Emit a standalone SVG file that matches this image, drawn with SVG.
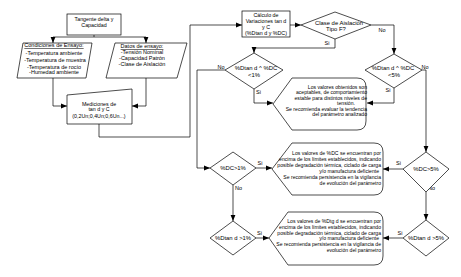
<svg xmlns="http://www.w3.org/2000/svg" width="461" height="277" viewBox="0 0 461 277">
<defs>
<style>
.s{fill:#fff;stroke:#000;stroke-width:0.7}
.c{fill:none;stroke:#000;stroke-width:0.7}
text{font-family:"Liberation Sans",Arial,sans-serif;fill:#000}
.t{font-size:5.3px;text-anchor:middle}
.p{font-size:5.5px;text-anchor:middle}
.d{font-size:5.9px;text-anchor:middle}
.h{font-size:5.1px;text-anchor:end}
.hm{font-size:5.1px;text-anchor:middle}
.l{font-size:5.5px;text-anchor:middle}
</style>
<marker id="a" viewBox="0 0 10 10" refX="10" refY="5" markerWidth="6" markerHeight="6" markerUnits="userSpaceOnUse" orient="auto">
<path d="M0,1 L10,5 L0,9 Z" fill="#000"/>
</marker>
</defs>
<rect width="461" height="277" fill="#fff"/>

<g id="connectors">
<path class="c" d="M94,35 V37 M53,37 H146"/>
<path class="c" d="M53,37 V43" marker-end="url(#a)"/>
<path class="c" d="M146,37 V43" marker-end="url(#a)"/>
<path class="c" d="M53,78 V106 H67" marker-end="url(#a)"/>
<path class="c" d="M146,78 V106 H132" marker-end="url(#a)"/>
<path class="c" d="M99,124 V137 H190 V25 H242" marker-end="url(#a)"/>
<path class="c" d="M290,25 H301" marker-end="url(#a)"/>
<path class="c" d="M371,25 H394 V54" marker-end="url(#a)"/>
<path class="c" d="M335,39 V48 H254 V53" marker-end="url(#a)"/>
<path class="c" d="M225,70 H197 V168 H210" marker-end="url(#a)"/>
<path class="c" d="M254,89 V103 H273" marker-end="url(#a)"/>
<path class="c" d="M422,70 H426 V152" marker-end="url(#a)"/>
<path class="c" d="M394,88 V103 H367" marker-end="url(#a)"/>
<path class="c" d="M403,169 H383" marker-end="url(#a)"/>
<path class="c" d="M426,192 V220" marker-end="url(#a)"/>
<path class="c" d="M403,238 H383" marker-end="url(#a)"/>
<path class="c" d="M256,168 H272" marker-end="url(#a)"/>
<path class="c" d="M233,185 V221" marker-end="url(#a)"/>
<path class="c" d="M256,238 H269" marker-end="url(#a)"/>
<text class="l" x="382" y="32">No</text>
<text class="l" x="327" y="45.3">Si</text>
<text class="l" x="425" y="68.7">No</text>
<text class="l" x="388" y="92">Si</text>
<text class="l" x="221" y="69">No</text>
<text class="l" x="258.5" y="93.7">Si</text>
<text class="l" x="260" y="165.3">Si</text>
<text class="l" x="238.5" y="190.3">No</text>
<text class="l" x="259.5" y="235.3">Si</text>
<text class="l" x="398.5" y="165.3">Si</text>
<text class="l" x="431.5" y="190.3">No</text>
<text class="l" x="400" y="235.3">Si</text>
</g>

<g id="tangente">
<rect class="s" x="67" y="14" width="54" height="21"/>
<text class="t" x="94" y="21">Tangente delta y</text>
<text class="t" x="94" y="27.3">Capacidad</text>
</g>

<g id="condiciones">
<path class="s" d="M23,43 H92 L86,78 H17 Z"/>
<text class="p" x="54" y="47" text-decoration="underline">Condiciones de Ensayo:</text>
<text class="p" x="54" y="54.7">-Temperatura ambiente</text>
<text class="p" x="55" y="62">-Temperatura de muestra</text>
<text class="p" x="54" y="68.7">-Temperatura de rocío</text>
<text class="p" x="54" y="74.3">-Humedad ambiente</text>
</g>

<g id="datos">
<path class="s" d="M115,43 H187 L177,78 H106 Z"/>
<text class="p" x="142" y="48" text-decoration="underline">Datos de ensayo:</text>
<text class="p" x="142" y="53.7">-Tensión Nominal</text>
<text class="p" x="142" y="59.7">-Capacidad Patrón</text>
<text class="p" x="142" y="66">-Clase de Aislación</text>
</g>

<g id="mediciones">
<path class="s" d="M67,95 L132,89 V124 H67 Z"/>
<text class="t" x="99" y="106">Mediciones de</text>
<text class="t" x="99" y="111.3">tan d y C</text>
<text class="t" x="99" y="117.7">(0,2Un;0,4Un;0,6Un...)</text>
</g>

<g id="calculo">
<rect class="s" x="242" y="11" width="48" height="26"/>
<text class="t" x="266" y="17">Cálculo de</text>
<text class="t" x="266" y="22.7">Variaciones tan d</text>
<text class="t" x="266" y="28.6">y C</text>
<text class="t" x="266" y="35.2">(%Dtan d y %DC)</text>
</g>

<g id="clase">
<path class="s" d="M301,25 L335,12 L371,25 L335,39 Z"/>
<text class="d" x="339" y="24.8">Clase de Aislación</text>
<text class="d" x="336" y="31.3">Tipo F?</text>
</g>

<g id="menor1">
<path class="s" d="M225,70 L254,53 L283,70 L254,89 Z"/>
<text class="d" x="256" y="70.4">%Dtan d ^ %DC</text>
<text class="d" x="254" y="77">&lt;1%</text>
</g>

<g id="menor5">
<path class="s" d="M365,70 L394,54 L422,70 L394,88 Z"/>
<text class="d" x="393" y="70.4">%Dtan d ^ %DC</text>
<text class="d" x="394" y="77">&lt;5%</text>
</g>

<g id="dc1">
<path class="s" d="M210,168 L233,152 L256,168 L233,185 Z"/>
<text class="d" x="233" y="170.4">%DC&gt;1%</text>
</g>

<g id="tan1">
<path class="s" d="M210,238 L233,221 L256,238 L233,255 Z"/>
<text class="d" x="233" y="240.4">%Dtan d &gt;1%</text>
</g>

<g id="dc5">
<path class="s" d="M403,169 L426,152 L449,169 L426,192 Z"/>
<text class="d" x="426" y="171.2">%DC&gt;5%</text>
</g>

<g id="tan5">
<path class="s" d="M403,238 L426,220 L449,238 L426,256 Z"/>
<text class="d" x="426" y="240.4">%Dtan d &gt;5%</text>
</g>

<g id="aceptables">
<path class="s" d="M273,104 L292,78 H357 Q366,78 366,87 V121 Q366,130 357,130 H292 Z"/>
<text class="h" x="367" y="89.2">Los valores obtenidos son</text>
<text class="h" x="367" y="94.3">aceptables, de comportamiento</text>
<text class="h" x="367" y="99.6">estable para distintos niveles de</text>
<text class="hm" x="346" y="104.6">tensión.</text>
<text class="h" x="367" y="110.9">Se recomienda evaluar la tendencia</text>
<text class="h" x="367" y="116.2">del parámetro analizado</text>
</g>

<g id="dc-alto">
<path class="s" d="M272,169 L292,143 H374 Q383,143 383,152 V186 Q383,195 374,195 H292 Z"/>
<text class="h" x="381" y="155.2">Los valores de %DC se encuentran por</text>
<text class="h" x="381" y="160.9">encima de los límites establecidos, indicando</text>
<text class="h" x="381" y="166.9">posible degradación térmica, ciclado de carga</text>
<text class="h" x="379" y="172.9">y/o manufactura deficiente</text>
<text class="h" x="381" y="179.2">Se recomienda persistencia en la vigilancia</text>
<text class="h" x="381" y="185.2">de evolución del parámetro</text>
</g>

<g id="tan-alto">
<path class="s" d="M269,238 L288,212 H374 Q383,212 383,221 V256 Q383,265 374,265 H288 Z"/>
<text class="h" x="381" y="222.9">Los valores de %Dtg d se encuentran por</text>
<text class="h" x="381" y="228.6">encima de los límites establecidos, indicando</text>
<text class="h" x="381" y="234.6">posible degradación térmica, ciclado de carga</text>
<text class="h" x="379" y="240.2">y/o manufactura deficiente</text>
<text class="h" x="381" y="246.2">Se recomienda persistencia en la vigilancia de</text>
<text class="h" x="381" y="251.9">evolución del parámetro</text>
</g>
</svg>
